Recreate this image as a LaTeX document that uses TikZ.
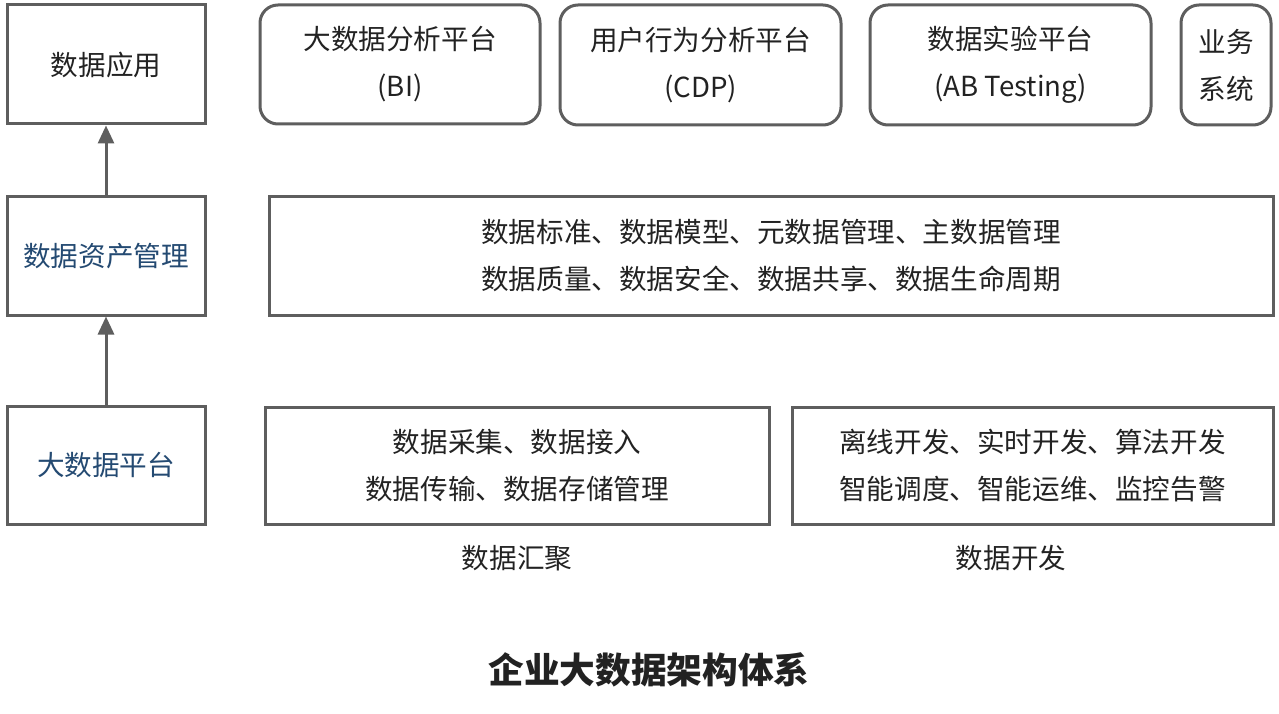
\documentclass[tikz,border=0pt]{standalone}
\usepackage{fontspec}
\setmainfont{Noto Sans CJK SC}
\usetikzlibrary{arrows.meta}
\definecolor{edge}{HTML}{5E5E5E}
\definecolor{txt}{HTML}{222222}
\definecolor{blu}{HTML}{244A72}
\begin{document}
\begin{tikzpicture}[x=1pt,y=-1pt,
  box/.style={draw=edge,line width=3pt,text=txt,font=\fontsize{27.6}{47}\selectfont,align=center,inner sep=0pt},
  rbox/.style={box,rounded corners=18pt},
  lbl/.style={text=txt,font=\fontsize{27.6}{47}\selectfont,inner sep=0pt},
  arr/.style={draw=edge,line width=3pt,-{Triangle[width=16pt,length=18pt]}}]
\useasboundingbox (0,0) rectangle (1279,714);
\node[box,minimum width=198pt,minimum height=119pt] (app) at (106,64.5) {数据应用};
\node[box,minimum width=198pt,minimum height=118pt,text=blu] (asset) at (106,256) {数据资产管理};
\node[box,minimum width=198pt,minimum height=118pt,text=blu] (plat) at (106,465) {大数据平台};
\draw[arr] (asset.north) -- (app.south);
\draw[arr] (plat.north) -- (asset.south);
\node[rbox,minimum width=280pt,minimum height=119pt] (bi) at (400,64.5) {大数据分析平台\\(BI)};
\node[rbox,minimum width=281pt,minimum height=120pt] (cdp) at (700.5,65) {用户行为分析平台\\(CDP)};
\node[rbox,minimum width=281pt,minimum height=120pt] (ab) at (1010.5,65) {数据实验平台\\(AB Testing)};
\node[rbox,minimum width=90pt,minimum height=120pt] (biz) at (1226,65) {业务\\系统};
\node[box,minimum width=1004pt,minimum height=118pt] (gov) at (771,256) {数据标准、数据模型、元数据管理、主数据管理\\数据质量、数据安全、数据共享、数据生命周期};
\node[box,minimum width=504pt,minimum height=117pt] (agg) at (517,465.5) {数据采集、数据接入\\数据传输、数据存储管理};
\node[box,minimum width=481pt,minimum height=117pt] (dev) at (1032.5,465.5) {离线开发、实时开发、算法开发\\智能调度、智能运维、监控告警};
\node[lbl] (agglbl) at (517,558) {数据汇聚};
\node[lbl] (devlbl) at (1011,558) {数据开发};
\node[text=txt,font=\fontsize{35.7}{40}\selectfont\bfseries,inner sep=0pt] (title) at (649,670) {企业大数据架构体系};
\end{tikzpicture}
\end{document}
